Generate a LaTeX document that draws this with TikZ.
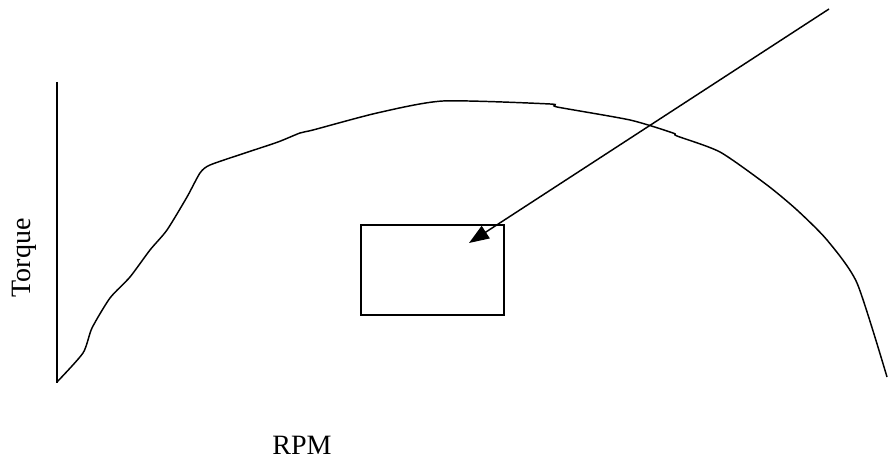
\documentclass[tikz,border=0pt]{standalone}
\usepackage{fontspec}
\setmainfont{Liberation Serif}
\usetikzlibrary{arrows.meta}
\begin{document}
\begin{tikzpicture}[x=0.75pt,y=-0.75pt,line width=1.1pt,>={Triangle[length=15pt,width=11pt]},
  lbl/.style={font=\fontsize{21}{25}\selectfont,inner sep=0pt}]
\useasboundingbox (0,0) rectangle (888,459);
\draw(57,82)--(57,383);
\draw[smooth,tension=0.4] plot coordinates {(57,382) (83,353) (92,328) (110,298) (130,277) (150,250) (167,230) (187,197) (200,173) (210,165) (245,153) (278,142) (300,133) (313,130) (377,113) (443,101) (550,104) (557,107) (630,120) (673,133) (677,136) (720,152) (767,185) (797,210) (827,240) (857,283) (887,377)};
\node[draw,inner sep=0,minimum width=107.25pt,minimum height=67.5pt] (box) at (432.5,270) {};
\coordinate (tail) at (829,9);
\coordinate (tip) at (469,243);
\draw[->] (tail)--(tip);
\node[lbl,rotate=90,anchor=base] (torque) at (31,258) {Torque};
\node[lbl,anchor=base] (rpm) at (302,454) {RPM};
\end{tikzpicture}
\end{document}
